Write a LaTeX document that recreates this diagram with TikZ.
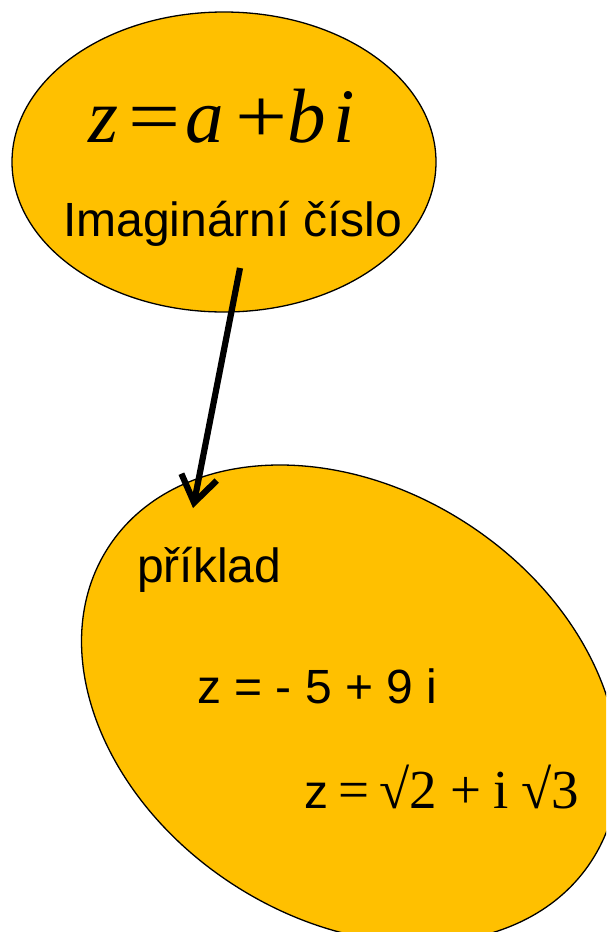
\documentclass[tikz,border=0pt]{standalone}
\usepackage{fontspec}
\setmainfont{Liberation Sans}
\newfontfamily\serifrm{Liberation Serif}
\usetikzlibrary{shapes.geometric,arrows.meta}
\definecolor{gold}{HTML}{FFC000}
\newcommand{\wideop}[1]{\scalebox{1.2}[1]{#1}}
\begin{document}
\begin{tikzpicture}[x=1pt,y=-1pt,
  bubble/.style={ellipse,draw=black,fill=gold,line width=1.3pt,inner sep=0pt},
  lbl/.style={inner sep=0pt,anchor=base west,font=\fontsize{48}{58}\selectfont},
  arrowline/.style={line width=6.2pt,-{Straight Barb[length=26pt,width=36pt]}}]
\useasboundingbox (0,0) rectangle (606,932);
\clip (0,0) rectangle (606,932);
\node[bubble,minimum width=424pt,minimum height=300pt] (top) at (224,162) {};
\node[bubble,minimum width=576pt,minimum height=430pt,rotate=-33] (ex) at (350,704) {};
\node[lbl] (formula) at (88,142) {\serifrm\fontsize{77}{86}\selectfont\rlap{\textit{z}}\rlap{\hspace{40pt}\wideop{=}}\rlap{\hspace{97pt}\textit{a}}\rlap{\hspace{147pt}\wideop{+}}\rlap{\hspace{199pt}\textit{b}}\hspace{245pt}\textit{i}};
\node[lbl] (imag) at (63,236) {Imaginární číslo};
\node[lbl] (prik) at (137,582) {příklad};
\node[lbl] (ex1) at (197,703) {z = - 5 + 9 i};
\node[lbl] (ex2) at (304,808) {z\hspace{10pt}{\serifrm\fontsize{55}{60}\selectfont =\hspace{10pt}√2\hspace{14pt}+\hspace{12pt}i\hspace{12pt}√3}};
\coordinate (a1) at (240,268);
\coordinate (a2) at (193,508);
\draw[arrowline] (a1) -- (a2);
\end{tikzpicture}
\end{document}
